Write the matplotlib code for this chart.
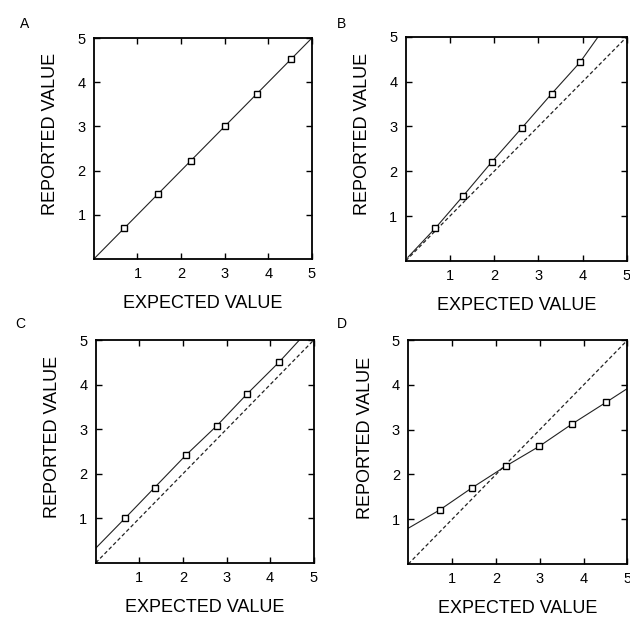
import matplotlib
matplotlib.use("Agg")
import matplotlib.pyplot as plt

plt.rcParams['font.family'] = ['Liberation Sans', 'DejaVu Sans']

# panel A: reports match expectation
a_x = [0.70, 1.48, 2.22, 3.00, 3.74, 4.52]
a_y = [0.70, 1.48, 2.22, 3.00, 3.74, 4.52]
a_line_x = [0.0, 5.0]
a_line_y = [0.0, 5.0]

# panel B: multiplicative overestimate
b_x = [0.67, 1.30, 1.94, 2.62, 3.30, 3.94]
b_y = [0.73, 1.45, 2.20, 2.96, 3.73, 4.43]
b_line_x = [0.05, 0.67, 1.30, 1.94, 2.62, 3.30, 3.94, 4.35]
b_line_y = [0.08, 0.73, 1.45, 2.20, 2.96, 3.73, 4.43, 5.00]

# panel C: constant offset
c_x = [0.67, 1.35, 2.06, 2.78, 3.47, 4.20]
c_y = [1.00, 1.69, 2.41, 3.08, 3.79, 4.50]
c_line_x = [0.0, 0.67, 1.35, 2.06, 2.78, 3.47, 4.20, 4.67]
c_line_y = [0.33, 1.00, 1.69, 2.41, 3.08, 3.79, 4.50, 5.00]

# panel D: compressed range
d_x = [0.72, 1.45, 2.23, 2.99, 3.74, 4.51]
d_y = [1.21, 1.70, 2.19, 2.63, 3.13, 3.61]
d_line_x = [0.0, 0.72, 1.45, 2.23, 2.99, 3.74, 4.51, 5.0]
d_line_y = [0.80, 1.21, 1.70, 2.19, 2.63, 3.13, 3.61, 3.92]

ident_x = [0.0, 5.0]
ident_y = [0.0, 5.0]

ticks = [1, 2, 3, 4, 5]

fig = plt.figure(figsize=(6.30, 6.24), dpi=100)

panels = [
    ("A", [0.149, 0.585, 0.346, 0.354], (0.032, 0.962), a_x, a_y, a_line_x, a_line_y, False),
    ("B", [0.644, 0.582, 0.351, 0.359], (0.535, 0.962), b_x, b_y, b_line_x, b_line_y, True),
    ("C", [0.152, 0.098, 0.346, 0.357], (0.024, 0.480), c_x, c_y, c_line_x, c_line_y, True),
    ("D", [0.648, 0.096, 0.348, 0.359], (0.535, 0.480), d_x, d_y, d_line_x, d_line_y, True),
]

for name, rect, lpos, px, py, lx, ly, dashed in panels:
    ax = fig.add_axes(rect)
    if dashed:
        ax.plot(ident_x, ident_y, color='#222222', lw=0.9, ls=(0, (3, 2)))
    ax.plot(lx, ly, color='#222222', lw=0.8)
    ax.plot(px, py, ls='none', marker='s', ms=4.5, mfc='white', mec='black', mew=1.0)
    ax.set_xlim(0, 5)
    ax.set_ylim(0, 5)
    ax.set_xticks(ticks)
    ax.set_yticks(ticks)
    ax.tick_params(direction='in', length=4, width=1, top=True, right=True,
                   labelsize=10.5, pad=6)
    for s in ax.spines.values():
        s.set_linewidth(1.3)
    ax.set_xlabel("EXPECTED VALUE", fontsize=13, labelpad=10)
    ax.set_ylabel("REPORTED VALUE", fontsize=13, labelpad=13, y=0.565)
    fig.text(lpos[0], lpos[1], name, fontsize=10, ha='left', va='center')

fig.savefig("out.png", dpi=100)
